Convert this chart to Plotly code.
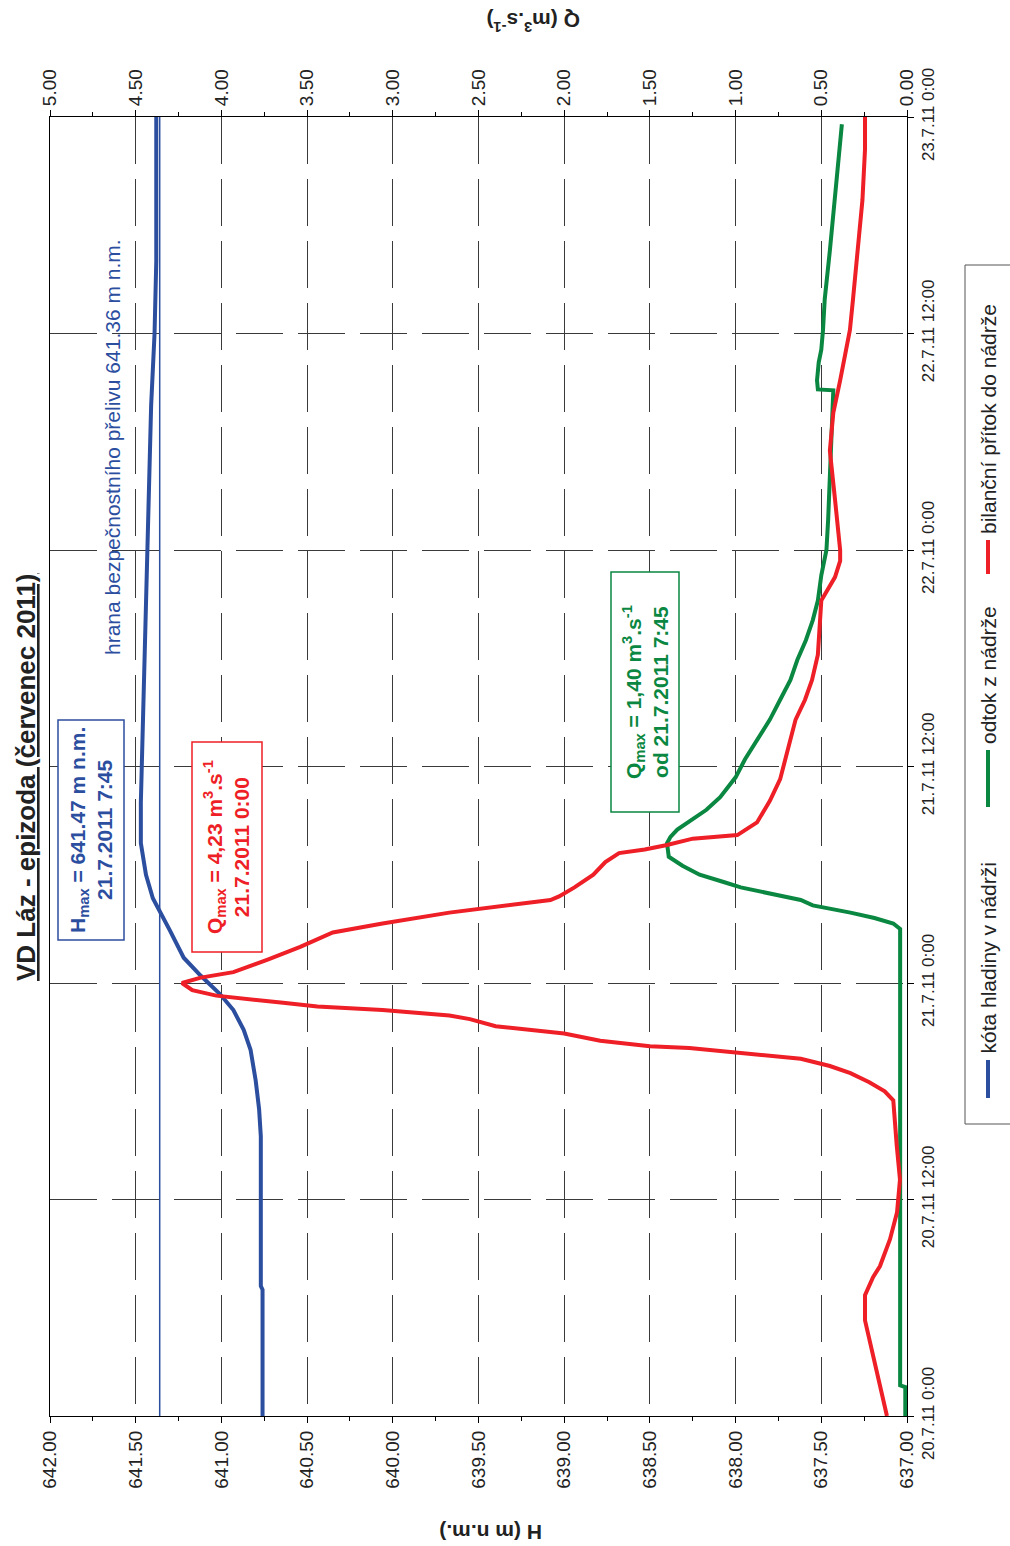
import pandas as pd
import plotly.graph_objects as go

# --- data -------------------------------------------------------------------
START = pd.Timestamp("2011-07-20 00:00")
END = pd.Timestamp("2011-07-23 00:00")

# water level in the reservoir (hours from START, m n.m.)
LEVEL_T = [0, 7, 7.2, 15.5, 17, 18.6, 20.3, 21.4, 22.5, 23.4, 24.4, 25.4, 26.9,
           28.7, 30, 31, 31.75, 34, 38, 44, 48, 52, 56, 60, 64, 72]
LEVEL_H = [640.76, 640.76, 640.77, 640.77, 640.78, 640.80, 640.83, 640.87,
           640.93, 641.01, 641.12, 641.22, 641.30, 641.40, 641.44, 641.46,
           641.47, 641.47, 641.46, 641.44, 641.43, 641.42, 641.41, 641.39,
           641.38, 641.38]

# balance inflow into the reservoir (hours, m3/s)
INFLOW_T = [0, 5.3, 6.7, 7.7, 8.3, 9.8, 11.3, 12, 13.1, 15, 17.5, 18, 18.5, 19,
            19.4, 19.8, 20.1, 20.4, 20.5, 20.8, 21.2, 21.6, 22.0, 22.2, 22.5,
            22.7, 22.9, 23.1, 23.3, 23.6, 24.0, 24.3, 24.6, 25.3, 26.0, 26.8,
            27.3, 27.9, 28.1, 28.6, 28.8, 29.3, 30.0, 30.7, 31.2, 31.4, 31.65,
            32.0, 32.2, 32.9, 34.1, 35.3, 36.4, 37.5, 38.6, 39.7, 40.8, 42.2,
            43.6, 45.2, 46.5, 47.4, 48.0, 49.1, 50.8, 53.5, 55.6, 57.4, 60.2,
            61.9, 64.6, 67.4, 70.2, 72]
INFLOW_Q = [0.117, 0.245, 0.245, 0.198, 0.158, 0.099, 0.058, 0.053, 0.041,
            0.06, 0.08, 0.13, 0.22, 0.33, 0.45, 0.62, 0.97, 1.27, 1.50, 1.79,
            2.0, 2.4, 2.55, 2.67, 3.06, 3.44, 3.64, 3.83, 4.03, 4.17, 4.23,
            4.12, 3.93, 3.73, 3.54, 3.35, 3.06, 2.67, 2.49, 2.08, 2.03, 1.94,
            1.83, 1.76, 1.68, 1.53, 1.40, 1.25, 0.99, 0.875, 0.80, 0.74, 0.71,
            0.68, 0.65, 0.595, 0.554, 0.52, 0.51, 0.50, 0.42, 0.39, 0.39, 0.40,
            0.42, 0.45, 0.43, 0.39, 0.333, 0.315, 0.286, 0.26, 0.245, 0.245]

# outflow from the reservoir (hours, m3/s)
OUTFLOW_T = [0, 1.6, 1.7, 27.0, 27.3, 27.6, 27.9, 28.3, 28.6, 29.0, 29.3, 29.6,
             30.0, 30.5, 31.0, 31.75, 32.1, 32.5, 33.1, 33.6, 34.3, 34.9, 35.4,
             36.4, 37.5, 38.6, 39.7, 40.8, 41.9, 43.0, 44.1, 45.2, 46.6, 48.0,
             49.7, 51.9, 54.1, 56.85, 56.9, 57.4, 58.4, 59.1, 60.2, 61.9, 64.6,
             67.4, 69.6, 71.6]
OUTFLOW_Q = [0.01, 0.01, 0.04, 0.04, 0.08, 0.19, 0.33, 0.55, 0.62, 0.82, 0.97,
             1.07, 1.21, 1.31, 1.39, 1.40, 1.38, 1.34, 1.25, 1.17, 1.09, 1.04,
             1.00, 0.945, 0.87, 0.80, 0.74, 0.68, 0.64, 0.59, 0.55, 0.52, 0.50,
             0.47, 0.46, 0.45, 0.44, 0.43, 0.52, 0.525, 0.515, 0.50, 0.49, 0.48,
             0.45, 0.42, 0.40, 0.38]

SPILLWAY_H = 641.36

H_RANGE = [642, 637]
Q_RANGE = [5, 0]

TITLE = "VD Láz - epizoda (červenec 2011)"
SERIES_NAMES = ["kóta hladiny v nádrži", "odtok z nádrže", "bilanční přítok do nádrže"]

BLUE = "#2C4E9F"
RED = "#EE1F26"
GREEN = "#0A8741"
TEXT = "#222"
FONT = "Arial, Liberation Sans, sans-serif"

assert len(LEVEL_T) == len(LEVEL_H)
assert len(INFLOW_T) == len(INFLOW_Q)
assert len(OUTFLOW_T) == len(OUTFLOW_Q)


def times(hours):
    return START + pd.to_timedelta(hours, unit="h")


def cz(v):
    return f"{v:.2f}".replace(".", ",")


# --- figure geometry (pixels) -----------------------------------------------
W, H = 1010, 1546
L, R, T, B = 50, 907, 117, 1416


def px(x):
    return (x - L) / (R - L)


def py(y):
    return (B - y) / (B - T)


fig = go.Figure()

fig.add_trace(go.Scatter(
    x=[SPILLWAY_H, SPILLWAY_H], y=[START, END], xaxis="x", yaxis="y",
    mode="lines", line=dict(color=BLUE, width=1.5), hoverinfo="skip"))
fig.add_trace(go.Scatter(
    x=LEVEL_H, y=times(LEVEL_T), xaxis="x", yaxis="y", name=SERIES_NAMES[0],
    mode="lines", line=dict(color=BLUE, width=4)))
fig.add_trace(go.Scatter(
    x=OUTFLOW_Q, y=times(OUTFLOW_T), xaxis="x2", yaxis="y", name=SERIES_NAMES[1],
    mode="lines", line=dict(color=GREEN, width=4)))
fig.add_trace(go.Scatter(
    x=INFLOW_Q, y=times(INFLOW_T), xaxis="x2", yaxis="y", name=SERIES_NAMES[2],
    mode="lines", line=dict(color=RED, width=4)))

grid = dict(showgrid=True, gridcolor="#3a3a3a", gridwidth=1, griddash="47px,15px")
axline = dict(showline=True, linecolor="#000", linewidth=1, zeroline=False)

fig.update_layout(
    width=W, height=H,
    margin=dict(l=L, r=W - R, t=T, b=H - B, pad=0),
    paper_bgcolor="white", plot_bgcolor="white",
    showlegend=False,
    font=dict(family=FONT, color=TEXT),
    xaxis=dict(range=H_RANGE, dtick=0.5, tickformat=".2f", tickangle=-90,
               ticks="outside", ticklen=6, tickcolor="#000",
               minor=dict(dtick=0.25, ticks="outside", ticklen=4, tickcolor="#000"),
               tickfont=dict(size=19, color=TEXT), anchor="y",
               **grid, **axline),
    xaxis2=dict(range=Q_RANGE, dtick=0.5, tickformat=".2f", tickangle=-90,
                overlaying="x", side="top", anchor="y",
                ticks="outside", ticklen=6, tickcolor="#000",
                minor=dict(dtick=0.25, ticks="outside", ticklen=4, tickcolor="#000"),
                tickfont=dict(size=19, color=TEXT), showgrid=False, **axline),
    yaxis=dict(type="date", range=[START, END], side="right",
               dtick=12 * 3600 * 1000, tick0=START,
               tickformat="%-d.%-m.%y %-H:%M", tickangle=-90,
               ticks="outside", ticklen=6, tickcolor="#000", mirror=True,
               tickfont=dict(size=17, color=TEXT), **grid, **axline),
)

ann = []
shapes = []

# title and axis titles
ann.append(dict(x=px(26), y=py(777), text=f"<b><u>{TITLE}</u></b>", textangle=-90,
                font=dict(size=26, color=TEXT)))
ann.append(dict(x=px(491), y=py(1533), text="<b>H (m n.m.)</b>", textangle=180,
                font=dict(size=21, color=TEXT)))
ann.append(dict(x=px(533), y=py(22), text="<b>Q (m<sup>3</sup>.s<sup>-1</sup>)</b>",
                textangle=180, font=dict(size=21, color=TEXT)))

# spillway label
ann.append(dict(x=px(113), y=py(447),
                text=f"hrana bezpečnostního přelivu {SPILLWAY_H:.2f} m n.m.",
                textangle=-90, font=dict(size=21, color=BLUE)))

# boxes with the maxima
boxes = [
    (BLUE, (58, 124, 720, 940), (91, 830),
     f"<b>H<sub>max</sub> = {max(LEVEL_H):.2f} m n.m.<br>21.7.2011 7:45</b>"),
    (RED, (192, 262, 742, 952), (227, 847),
     f"<b>Q<sub>max</sub> = {cz(max(INFLOW_Q))} m<sup>3</sup>.s<sup>-1</sup><br>21.7.2011 0:00</b>"),
    (GREEN, (611, 679, 572, 812), (645, 692),
     f"<b>Q<sub>max</sub> = {cz(max(OUTFLOW_Q))} m<sup>3</sup>.s<sup>-1</sup><br>od 21.7.2011 7:45</b>"),
]
for color, (x0, x1, y0, y1), (cx, cy), text in boxes:
    shapes.append(dict(type="rect", xref="paper", yref="paper", layer="above",
                       x0=px(x0), x1=px(x1), y0=py(y1), y1=py(y0),
                       fillcolor="white", line=dict(color=color, width=1.5)))
    ann.append(dict(x=px(cx), y=py(cy), text=text, textangle=-90,
                    font=dict(size=21, color=color)))

# legend drawn by hand so that it reads along the rotated layout
legend_items = [(SERIES_NAMES[0], BLUE, 1098, 1060, 1056),
                (SERIES_NAMES[1], GREEN, 807, 750, 746),
                (SERIES_NAMES[2], RED, 574, 540, 536)]
shapes.append(dict(type="rect", xref="paper", yref="paper", x0=px(965), x1=px(1030),
                   y0=py(1124), y1=py(265), line=dict(color="#555", width=1)))
for name, color, s0, s1, tpos in legend_items:
    shapes.append(dict(type="line", xref="paper", yref="paper", x0=px(988), x1=px(988),
                       y0=py(s0), y1=py(s1), line=dict(color=color, width=4)))
    ann.append(dict(x=px(988), y=py(tpos), text=name, textangle=-90,
                    yanchor="bottom", font=dict(size=21, color=TEXT)))

for a in ann:
    a.setdefault("xanchor", "center")
    a.setdefault("yanchor", "middle")
    a.update(xref="paper", yref="paper", showarrow=False)
fig.update_layout(annotations=ann, shapes=shapes)

fig.write_html("out.html")
